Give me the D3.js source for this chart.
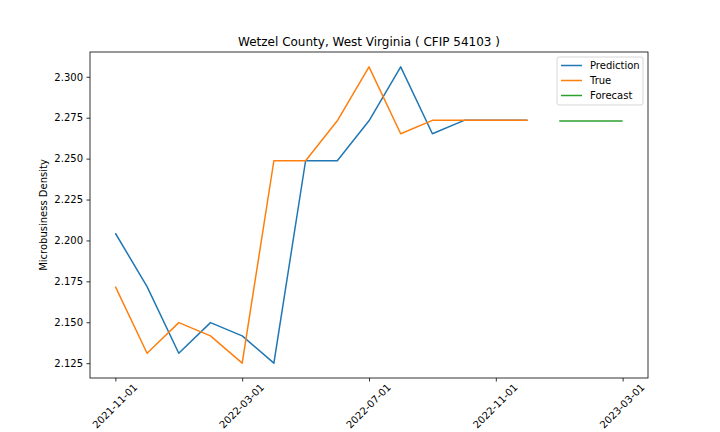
<!DOCTYPE html>
<html>
<head>
<meta charset="utf-8">
<script src="https://cdn.jsdelivr.net/npm/d3@7"></script>
<style>
  body { margin: 0; background: #fff; }
  text { font-family: "DejaVu Sans", sans-serif; }
</style>
</head>
<body>
<div id="chart"></div>
<script>
// monthly dates, plotted as categories (equal spacing)
var dates = ["2021-11-01", "2021-12-01", "2022-01-01", "2022-02-01", "2022-03-01", "2022-04-01",
    "2022-05-01", "2022-06-01", "2022-07-01", "2022-08-01", "2022-09-01", "2022-10-01",
    "2022-11-01", "2022-12-01", "2023-01-01", "2023-02-01", "2023-03-01"];

var prediction = [2.2044, 2.1718, 2.1311, 2.1498, 2.1417, 2.1250, 2.2487, 2.2487,
    2.2731, 2.3061, 2.2652, 2.2734, 2.2734, 2.2734];
var trueValues = [2.1718, 2.1311, 2.1498, 2.1417, 2.1250, 2.2487, 2.2487, 2.2731,
    2.3061, 2.2652, 2.2734, 2.2734, 2.2734, 2.2734];
var forecast = [2.2730, 2.2730, 2.2730];
var forecastStart = 14;

var xTicks = ["2021-11-01", "2022-03-01", "2022-07-01", "2022-11-01", "2023-03-01"];
var yTicks = [2.125, 2.150, 2.175, 2.200, 2.225, 2.250, 2.275, 2.300];

var colors = { prediction: "#1f77b4", trueValues: "#ff7f0e", forecast: "#2ca02c" };

var width = 720, height = 432;
var plot = { left: 90, right: 648, top: 52, bottom: 378 };

var svg = d3.select("#chart").append("svg")
    .attr("width", width)
    .attr("height", height);

// x: index with matplotlib-like 5% margins
var n = dates.length - 1;
var x = d3.scaleLinear()
    .domain([-0.05 * n, n * 1.05])
    .range([plot.left, plot.right]);

var allVals = prediction.concat(trueValues, forecast);
var yMin = d3.min(allVals), yMax = d3.max(allVals);
var pad = (yMax - yMin) * 0.05;
var y = d3.scaleLinear()
    .domain([yMin - pad, yMax + pad])
    .range([plot.bottom, plot.top]);

// axes
var xAxis = d3.axisBottom(x)
    .tickValues(xTicks.map(function(d) { return dates.indexOf(d); }))
    .tickFormat(function(i) { return dates[i]; })
    .tickSize(3.5)
    .tickPadding(3);

var gx = svg.append("g")
    .attr("transform", "translate(0," + plot.bottom + ")")
    .call(xAxis);
gx.select(".domain").remove();
gx.selectAll("line").attr("stroke", "#000").attr("stroke-width", 0.8);
// rotated labels centred under each tick, as matplotlib does
gx.selectAll("text")
    .style("font-size", "10px")
    .attr("fill", "#000")
    .attr("text-anchor", "middle")
    .attr("x", 0)
    .attr("y", 0)
    .attr("dy", "0.35em")
    .attr("transform", "translate(-1,28) rotate(-45)");

var yAxis = d3.axisLeft(y)
    .tickValues(yTicks)
    .tickFormat(d3.format(".3f"))
    .tickSize(3.5)
    .tickPadding(3.5);

var gy = svg.append("g")
    .attr("transform", "translate(" + plot.left + ",0)")
    .call(yAxis);
gy.select(".domain").remove();
gy.selectAll("line").attr("stroke", "#000").attr("stroke-width", 0.8);
gy.selectAll("text").style("font-size", "10px").attr("fill", "#000");

// frame
svg.append("rect")
    .attr("x", plot.left)
    .attr("y", plot.top)
    .attr("width", plot.right - plot.left)
    .attr("height", plot.bottom - plot.top)
    .attr("fill", "none")
    .attr("stroke", "#000")
    .attr("stroke-width", 0.8);

// lines
var line = d3.line()
    .x(function(d) { return x(d.i); })
    .y(function(d) { return y(d.v); });

var series = [
    { key: "prediction", label: "Prediction", values: prediction, start: 0 },
    { key: "trueValues", label: "True", values: trueValues, start: 0 },
    { key: "forecast", label: "Forecast", values: forecast, start: forecastStart }
];

series.forEach(function(s) {
    var pts = s.values.map(function(v, k) { return { i: s.start + k, v: v }; });
    svg.append("path")
        .datum(pts)
        .attr("d", line)
        .attr("fill", "none")
        .attr("stroke", colors[s.key])
        .attr("stroke-width", 1.5)
        .attr("stroke-linejoin", "round");
});

// title
svg.append("text")
    .attr("x", (plot.left + plot.right) / 2)
    .attr("y", 46)
    .attr("text-anchor", "middle")
    .style("font-size", "12px")
    .text("Wetzel County, West Virginia ( CFIP 54103 )");

// y label
svg.append("text")
    .attr("transform", "translate(47," + ((plot.top + plot.bottom) / 2) + ") rotate(-90)")
    .attr("text-anchor", "middle")
    .style("font-size", "10px")
    .text("Microbusiness Density");

// legend
var legend = svg.append("g").attr("transform", "translate(557,57)");
legend.append("rect")
    .attr("width", 86)
    .attr("height", 48)
    .attr("rx", 2)
    .attr("fill", "#fff")
    .attr("fill-opacity", 0.8)
    .attr("stroke", "#ccc")
    .attr("stroke-width", 0.8);

series.forEach(function(s, k) {
    var ly = 8.5 + k * 15;
    legend.append("line")
        .attr("x1", 4).attr("x2", 25)
        .attr("y1", ly).attr("y2", ly)
        .attr("stroke", colors[s.key])
        .attr("stroke-width", 1.5);
    legend.append("text")
        .attr("x", 33)
        .attr("y", ly + 3.5)
        .style("font-size", "10px")
        .text(s.label);
});
</script>
</body>
</html>
